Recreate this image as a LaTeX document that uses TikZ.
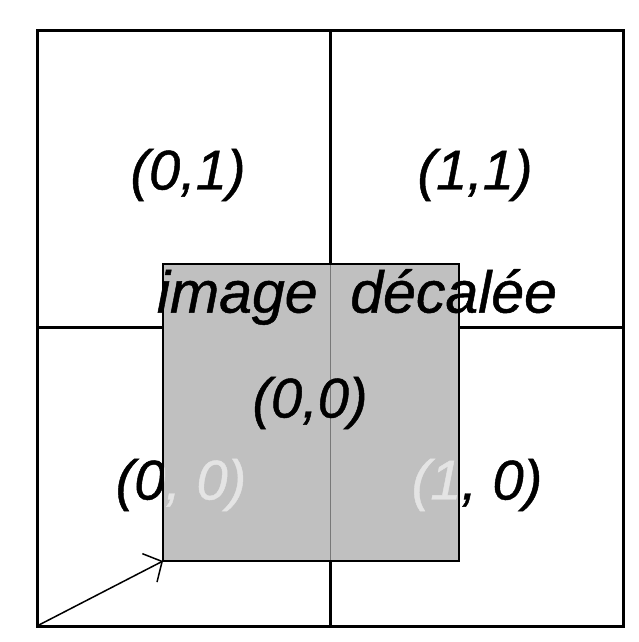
\documentclass[tikz,border=0pt]{standalone}
\usepackage{fontspec}
\setmainfont{Liberation Sans}
\newfontfamily\lblfont{Liberation Sans Italic}[FakeBold=0.8]
\usetikzlibrary{arrows.meta}
\tikzset{
  lbl/.style={font=\fontsize{56}{62}\selectfont\lblfont, inner sep=0pt},
  ttl/.style={font=\fontsize{59}{65}\selectfont\lblfont, inner sep=0pt},
  gridline/.style={line width=3pt},
}
\begin{document}
\begin{tikzpicture}[x=1pt,y=-1pt]
\useasboundingbox (0,0) rectangle (638,642);
% outer grid
\coordinate (tl) at (37,31);
\coordinate (br) at (623,626);
\draw[gridline] (tl) rectangle (br);
\coordinate (vt) at (330,31);
\coordinate (vb) at (330,626);
\coordinate (hl) at (37,327);
\coordinate (hr) at (623,327);
\draw[gridline] (vt) -- (vb);
\draw[gridline] (hl) -- (hr);
% labels
\node[lbl] (q01) at (188,175) {(0,1)};
\node[lbl] (q11) at (475,175) {(1,1)};
\node[lbl] (q00) at (181,485) {(0, 0)};
\node[lbl] (q10) at (477,485) {(1, 0)};
% shifted image
\coordinate (ga) at (163,264);
\coordinate (gb) at (459,561);
\fill[fill={rgb,255:red,192;green,192;blue,192}] (ga) rectangle (gb);
\begin{scope}
  \clip (ga) rectangle (gb);
  \node[lbl, text={rgb,255:red,228;green,228;blue,228}] at (q00) {(0, 0)};
  \node[lbl, text={rgb,255:red,228;green,228;blue,228}] at (q10) {(1, 0)};
  \draw[line width=1pt, draw={rgb,255:red,120;green,120;blue,120}] (vt) -- (vb);
\end{scope}
\draw[line width=2.5pt] (ga) rectangle (gb);
\node[lbl] (c00) at (310,403) {(0,0)};
\node[ttl] (title) at (357,297) {image\ \ décalée};
% arrow
\draw[line width=1.5pt, -{Straight Barb[length=14pt,width=32pt]}] (br -| tl) -- (ga |- gb);
\end{tikzpicture}
\end{document}
